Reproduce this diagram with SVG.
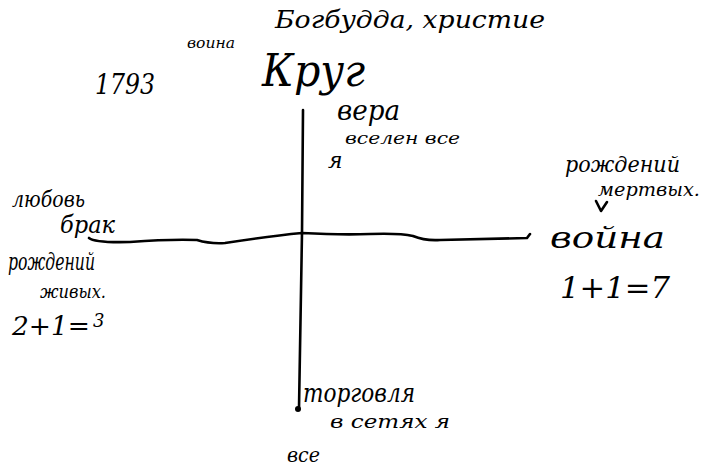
<svg xmlns="http://www.w3.org/2000/svg" width="715" height="468" viewBox="0 0 715 468">
<style>
text{font-family:"DejaVu Serif","Liberation Serif",serif;font-style:italic;fill:#000}
.ln{fill:none;stroke:#000;stroke-width:2.6;stroke-linecap:round;stroke-linejoin:round}
</style>
<rect width="715" height="468" fill="#fff"/>
<g id="connectors">
<path class="ln" d="M89,238 Q95,243 130,242 Q170,239 197,240 Q210,244 225,243 Q270,236 302,233 Q340,235 370,234 Q400,233 413,236 Q425,241 440,240 L527,238 L530,234"/>
<path class="ln" d="M303,110 L302,233 L299,408"/>
<circle cx="298" cy="409" r="3"/>
</g>
<g id="top">
<text x="187" y="48" font-size="14" textLength="48" lengthAdjust="spacingAndGlyphs">воина</text>
<text x="275" y="28" font-size="24" textLength="270" lengthAdjust="spacingAndGlyphs">Богбудда, христие</text>
<text x="95" y="94" font-size="28" textLength="60" lengthAdjust="spacingAndGlyphs">1793</text>
<text x="262" y="86" font-size="44" textLength="103" lengthAdjust="spacingAndGlyphs">Круг</text>
</g>
<g id="vera">
<text x="337" y="120" font-size="28" textLength="63" lengthAdjust="spacingAndGlyphs">вера</text>
<text x="345" y="144" font-size="16" textLength="115" lengthAdjust="spacingAndGlyphs">вселен все</text>
<text x="328" y="168" font-size="22">я</text>
</g>
<g id="lyubov">
<text x="12" y="207" font-size="22" textLength="73" lengthAdjust="spacingAndGlyphs">любовь</text>
<text x="60" y="233" font-size="24" textLength="55" lengthAdjust="spacingAndGlyphs">брак</text>
<text x="8" y="270" font-size="24" textLength="87" lengthAdjust="spacingAndGlyphs">рождений</text>
<text x="40" y="298" font-size="18" textLength="66" lengthAdjust="spacingAndGlyphs">живых.</text>
<text x="12" y="335" font-size="26" textLength="78" lengthAdjust="spacingAndGlyphs">2+1=</text>
<text x="93" y="327" font-size="18">3</text>
</g>
<g id="voina">
<text x="565" y="172" font-size="22" textLength="115" lengthAdjust="spacingAndGlyphs">рождений</text>
<text x="598" y="196" font-size="18" textLength="102" lengthAdjust="spacingAndGlyphs">мертвых.</text>
<path class="ln" d="M596,201 L601,211 L607,202" stroke-width="2"/>
<text x="550" y="248" font-size="30" textLength="115" lengthAdjust="spacingAndGlyphs">война</text>
<text x="560" y="298" font-size="30" textLength="110" lengthAdjust="spacingAndGlyphs">1+1=7</text>
</g>
<g id="torgovlya">
<text x="303" y="402" font-size="26" textLength="112" lengthAdjust="spacingAndGlyphs">торговля</text>
<text x="330" y="428" font-size="18" textLength="120" lengthAdjust="spacingAndGlyphs">в сетях я</text>
<text x="287" y="462" font-size="20" textLength="33" lengthAdjust="spacingAndGlyphs">все</text>
</g>
</svg>
